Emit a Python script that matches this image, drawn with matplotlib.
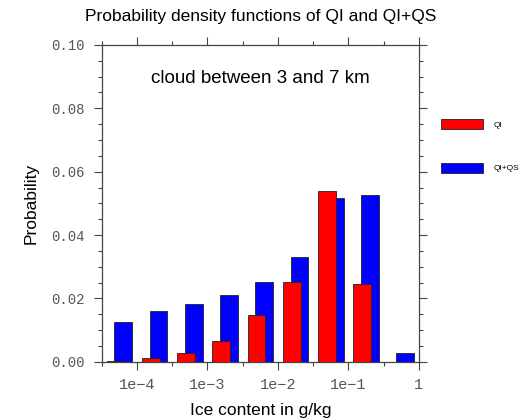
import matplotlib
matplotlib.use('Agg')
import matplotlib.pyplot as plt
from matplotlib.ticker import MultipleLocator

# bin centres (log10 of ice content in g/kg), half-decade bins
log_centers = [-4.25, -3.75, -3.25, -2.75, -2.25, -1.75, -1.25, -0.75, -0.25]
qi = [0.0003, 0.0011, 0.0026, 0.0066, 0.0148, 0.0251, 0.0540, 0.0245, 0.0]
qi_qs = [0.0124, 0.0160, 0.0183, 0.0212, 0.0251, 0.0330, 0.0516, 0.0526, 0.0026]
tick_pos = [-4, -3, -2, -1, 0]
tick_labels = ['1e\u22124', '1e\u22123', '1e\u22122', '1e\u22121', '1']

plt.rcParams['font.family'] = ['Liberation Sans', 'DejaVu Sans']

fig = plt.figure(figsize=(5.31, 4.20), dpi=100)
ax = fig.add_axes([0.1915, 0.1388, 0.5975, 0.7541])

w = 0.25
off = 0.055
ax.bar([c + off for c in log_centers], qi_qs, width=w, color='#0000ff',
       edgecolor='#222222', linewidth=0.6, label='QI+QS', zorder=2)
ax.bar([c - off for c in log_centers], qi, width=w, color='#ff0000',
       edgecolor='#222222', linewidth=0.6, label='QI', zorder=3)

ax.set_xlim(-4.5, 0)
ax.set_ylim(0, 0.10)

ax.set_xticks(tick_pos)
ax.set_xticklabels(tick_labels, family='Liberation Mono', fontsize=11, color='#555555')
ax.xaxis.set_minor_locator(MultipleLocator(0.5))
ax.yaxis.set_minor_locator(MultipleLocator(0.005))
ax.set_yticks([0, 0.02, 0.04, 0.06, 0.08, 0.10])
ax.set_yticklabels(['0.00', '0.02', '0.04', '0.06', '0.08', '0.10'],
                   family='Liberation Mono', fontsize=10, color='#555555')

ax.tick_params(which='both', direction='out', top=True, right=True,
               color='#444444', width=0.8)
ax.tick_params(which='major', length=6, pad=6)
ax.tick_params(which='minor', length=3)
for s in ax.spines.values():
    s.set_color('#444444')
    s.set_linewidth(0.9)

ax.set_xlabel('Ice content in g/kg', fontsize=12.5, labelpad=8)
ax.set_ylabel('Probability', fontsize=12.5, labelpad=9)
ax.set_title('Probability density functions of QI and QI+QS', fontsize=12.5, pad=17.5)
ax.text(0.5, 0.895, 'cloud between 3 and 7 km', transform=ax.transAxes,
        ha='center', va='center', fontsize=13.5)

handles, labels = ax.get_legend_handles_labels()
leg = fig.legend(handles[::-1], labels[::-1], loc='upper left',
                 bbox_to_anchor=(441 / 531, 1 - 119 / 420), bbox_transform=fig.transFigure,
                 frameon=False, fontsize=6, handlelength=5.0, handleheight=1.5,
                 labelspacing=4.0, handletextpad=1.3, borderpad=0, borderaxespad=0)

fig.savefig('out.png', dpi=100)
